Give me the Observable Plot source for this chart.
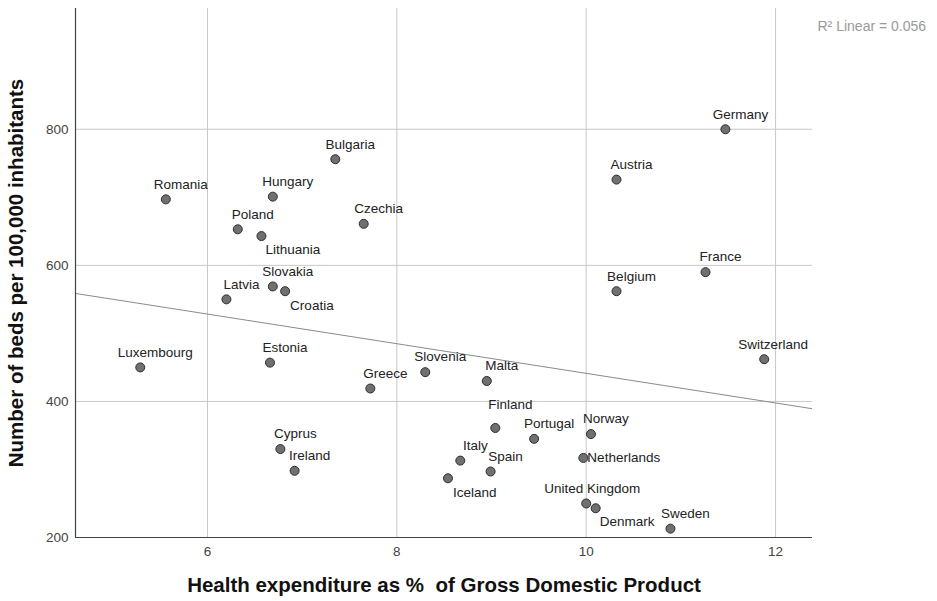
<!DOCTYPE html>
<html>
<head>
<meta charset="utf-8">
<script src="https://cdn.jsdelivr.net/npm/d3@7"></script>
<script src="https://cdn.jsdelivr.net/npm/@observablehq/plot@0.6"></script>
<style>
  html, body { margin: 0; padding: 0; background: #fff; }
  #chart { width: 937px; height: 601px; }
</style>
</head>
<body>
<div id="chart"></div>
<script>
const countries = ["Romania","Hungary","Poland","Lithuania","Slovakia","Croatia","Latvia","Bulgaria","Czechia","Austria","Germany","France","Belgium","Luxembourg","Estonia","Cyprus","Ireland","Greece","Slovenia","Malta","Finland","Portugal","Norway","Italy","Spain","Netherlands","Iceland","United Kingdom","Denmark","Sweden","Switzerland"];
const healthExpenditure = [5.56,6.69,6.32,6.57,6.69,6.82,6.20,7.35,7.65,10.32,11.47,11.26,10.32,5.29,6.66,6.77,6.92,7.72,8.30,8.95,9.04,9.45,10.05,8.67,8.99,9.97,8.54,10.00,10.10,10.89,11.88];
const bedsPer100k = [697,701,653,643,569,562,550,756,661,726,800,590,562,450,457,330,298,419,443,430,361,345,352,313,297,317,287,250,243,213,462];
const xTicks = [6, 8, 10, 12];
const yTicks = [200, 400, 600, 800];
const xDomain = [4.606, 12.39];
const yDomain = [200, 977.5];
const r2Label = "R\u00B2 Linear = 0.056";
const xTitle = "Health expenditure as %  of Gross Domestic Product";
const yTitle = "Number of beds per 100,000 inhabitants";

const data = countries.map((c, i) => ({country: c, x: healthExpenditure[i], y: bedsPer100k[i]}));

// least-squares fit
const mx = d3.mean(data, d => d.x), my = d3.mean(data, d => d.y);
const sxy = d3.sum(data, d => (d.x - mx) * (d.y - my));
const sxx = d3.sum(data, d => (d.x - mx) ** 2);
const slope = sxy / sxx, intercept = my - slope * mx;
const fit = xDomain.map(x => ({x, y: intercept + slope * x}));

// label placement (layout only)
const place = {
  default: {anchor: "middle", dx: 15, dy: -15},
  "Lithuania": {anchor: "start", dx: 4, dy: 14},
  "Croatia": {anchor: "start", dx: 5, dy: 14},
  "Iceland": {anchor: "start", dx: 5, dy: 14},
  "Denmark": {anchor: "start", dx: 4, dy: 13},
  "Netherlands": {anchor: "start", dx: 4, dy: 0},
  "Finland": {anchor: "middle", dx: 15, dy: -23},
  "United Kingdom": {anchor: "middle", dx: 6, dy: -15},
  "Switzerland": {anchor: "middle", dx: 9, dy: -15}
};
const groups = d3.group(data, d => JSON.stringify(place[d.country] || place.default));
const labelMarks = Array.from(groups, ([key, rows]) => {
  const p = JSON.parse(key);
  return Plot.text(rows, {x: "x", y: "y", text: "country", textAnchor: p.anchor, dx: p.dx, dy: p.dy, fontSize: 13.5, fill: "#222"});
});

const chart = Plot.plot({
  width: 937,
  height: 601,
  marginLeft: 75,
  marginRight: 125,
  marginTop: 8,
  marginBottom: 64,
  style: {fontFamily: "'Liberation Sans', Arial, sans-serif", background: "#fff"},
  x: {domain: xDomain},
  y: {domain: yDomain},
  marks: [
    Plot.gridX(xTicks, {stroke: "#c8c8c8", strokeOpacity: 1}),
    Plot.gridY(yTicks.filter(t => t > yDomain[0]), {stroke: "#c8c8c8", strokeOpacity: 1}),
    Plot.line(fit, {x: "x", y: "y", stroke: "#8a8a8a", strokeWidth: 1, clip: true}),
    Plot.ruleX([xDomain[0]], {stroke: "#444", strokeWidth: 1.2}),
    Plot.ruleY([yDomain[0]], {stroke: "#444", strokeWidth: 1.2}),
    Plot.axisX({ticks: xTicks, tickSize: 0, tickPadding: 9, fontSize: 13.5, fill: "#444", label: null, tickFormat: d => String(d)}),
    Plot.axisY({ticks: yTicks, tickSize: 0, tickPadding: 7, fontSize: 13.5, fill: "#444", label: null, tickFormat: d => String(d)}),
    Plot.dot(data, {x: "x", y: "y", r: 4.5, fill: "#707070", stroke: "#2e2e2e", strokeWidth: 1}),
    ...labelMarks,
    Plot.text([xTitle], {frameAnchor: "bottom", textAnchor: "middle", dy: 54, fontSize: 20.5, fontWeight: "bold", fill: "#111"}),
    Plot.text([yTitle], {frameAnchor: "left", textAnchor: "middle", dx: -59, rotate: -90, fontSize: 20.5, fontWeight: "bold", fill: "#111"}),
    Plot.text([r2Label], {frameAnchor: "top-right", textAnchor: "start", dx: 5, dy: 13, fontSize: 14, fill: "#999"})
  ]
});
document.getElementById("chart").appendChild(chart);
</script>
</body>
</html>
